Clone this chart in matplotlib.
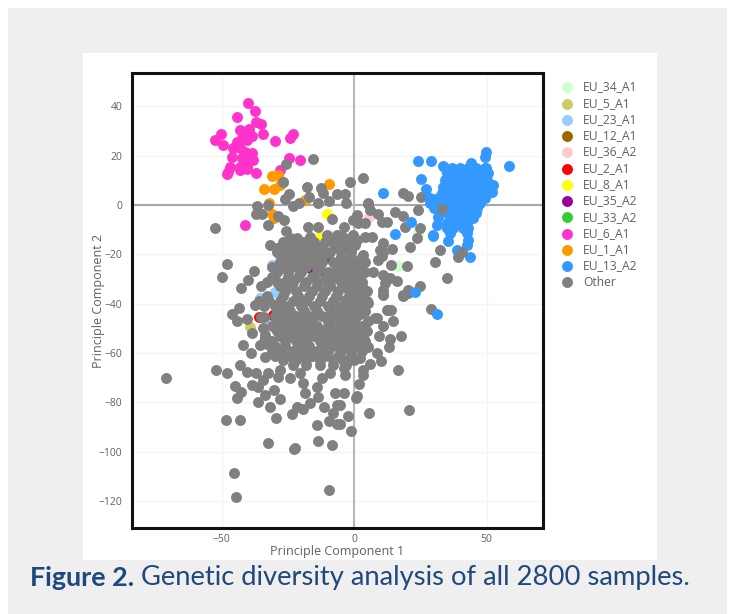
import matplotlib
matplotlib.use("Agg")
import matplotlib.pyplot as plt
from matplotlib.patches import Rectangle

W, H = 730, 614

other_x = [-52.5,-15.6,-25.7,-26.9,-17.6,-12.6,-11.8,-6.5,-24.6,-26,-16.9,-9.4,-13.7,-20.6,-22.9,-36.7,-32.5,-37,-34.8,-32.5,-28.6,-26.4,-8.4,-48,-49.9,-37.8,-39.9,-42.8,
  -71,-52,-48,-42.9,-40.5,-37.1,-44.8,-42.8,-44,-38.7,-36.1,-31.7,-27.8,-29.4,-48.3,-43,-32.6,-22.5,-22.3,-13.7,-8.4,-13.8,-9.6,-6.3,-23.3,-45.2,-44.5,-9.4,-41.8,-39,-46.2,-43.6,-44,-40.5,-37.4,-38.4,-34.2,-33.6,-35.5,
  -27.9,-28.6,-32.3,-34.2,-36.1,-30.4,-33.6,-24.2,-20.4,-19.1,-18.5,-21.6,-16.6,-19.1,-13.5,-11.2,-9.1,-12.2,-14.1,-7.2,-6.5,-7.8,
  28.9,12.7,14,14.8,11.1,8.6,5.4,11.1,18.6,20.4,9.4,17.7,13.6,13.2,4.2,5.4,8.6,10.1,6,3.5,3.5,16.7,1.9,0.8,1.2,-3.8,-5.3,-2.1,5.7,20.8,-1.1,-5.3,-3.8,-3.4,-0.3,2.3,-2.8,-1.5,-4,-0.3,-4,-0.3,3.5,5.4,-1.5,2.3,-3.4,
  5.4,6,1,8.9,15.5,18.6,24,1.6,4.2,10.5,12.6,-3.8,19.2,24.7,23.9,21.1,32.5,30.6,35,19.9,14,11.1,14.2,9.8,11,9.2,10.5,4.2,6.7,-0.3,-4,-1.5,0.4,3.5,2.9,7.3,11.1,13.6,16.1,11.7,11.1,11.1,18.5,20.5,24.9,12.3,7.9,
  -25.7,-17.2,-13.5,-0.4,1.5,-24.2,-31.7,-29.2,-26.7,-21.6,-16.6,-10.3,-6.5,1,
  -1.7,3.5,-3.4,-3,18.6,20.5,25.2,5.2,
  -24,-20,-16,-12,-7,-3,-27,-23,-19,-15,-5,-1,3,-31,-27,-22,-18,-14,-6,-2,2,-31,-25,-21,-16,-7,-3,1,
  -35,-28,-24,-19,-14,-9,-4,0,3,-33,-27,-21,-17,-12,-7,-2,2,-34,-30,-25,-20,-15,-10,-5,-1,3,
  -30,-26,-22,-17,-12,-6,-2,1,-31,-27,-23,-19,-14,-10,-5,-1,3,-28,-24,-20,-15,-11,-6,-2,2,
  -30,-26,-21,-17,-12,-7,-3,1,-30,-25,-20,-16,-11,-6,-1,-23,-18,-13,-8,-3,
  -27,-23,-19,-15,-11,-8,-4,-29,-25,-21,-17,-13,-9,-5,-1,-28,-24,-20,-16,-8,-4,0,4,
  -29,-25,-20,-14,-8,-4,0,4,-33,-29,-26,-23,-18,-14,-9,-5,-1,3,-26,-22,-16,-11,-6,-2,1,5,
  -36,-32,-28,-23,-18,-13,-8,-3,1,5,-28,-24,-19,-14,-8,-4,0,4,-29,-25,-20,-16,-10,-8,-4,0,
  -29,-25,-21,-17,-12,-8,-3,1,5,-31,-26,-22,-18,-13,-9,-4,0,-31,-28,-23,-19,-14,-10,-5,-1,3,
  -27,-22,-18,-13,-8,-4,0,
  -34,-29,-33,-10,-15,-11,-12,-13,-10,-14,-11,-10,
  -35,-33.6,-33.6]
other_y = [-9.2,18.8,16.6,9.3,7.2,6.8,5,4.5,4.5,2.3,3.1,1.7,0.7,0.7,-0.3,-0.3,0,-3.6,-3.6,-8.2,-4.5,-6.1,-5.8,-23.9,-29,-26.6,-30.4,-33.6,
  -70,-67,-68.1,-64.7,-67.7,-68.2,-73.2,-75.7,-78.4,-73,-80,-82,-78.6,-86.3,-87.2,-87.2,-96.3,-99,-98.3,-95.8,-97.4,-89.2,-87.4,-88.9,-84.5,-108.6,-118.5,-115.5,-56.8,-60.1,-44.2,-41.9,-46.9,-46.3,-40.5,-52,-50,-61.5,-56.8,
  -66.9,-69.6,-68.2,-70.9,-73.6,-75,-77,-70.2,-68.2,-72.3,-76.3,-81.8,-80.4,-82.8,-77.7,-81.8,-68.2,-70.2,-73.6,-76.3,-81,-84.4,
  -42.2,-42.6,-42.6,-46.9,-49,-45.9,-47,-36,-36.8,-35.5,-53.1,-53.1,-54.4,-57.4,-55.1,-57.7,-60.1,-63.1,-64.4,-66.9,-68.9,-67,-72.7,-78.1,-77.4,-76.1,-81,-85.5,-84.3,-83,-91.5,-88.9,-66.2,-68.9,-61.5,-62.2,-57.4,-52,-50.7,-54.7,-46.6,-48,-38.5,-39.8,-42.6,-44,-38.5,
  0.7,-2,-4,-3.6,-2.7,-4.3,-2,-6.8,-7.2,-6.8,-7,-8.8,-9,-9.2,-13.5,-16.9,-18.2,-23.2,-29.7,-24.6,-24.3,-15.3,-17.8,-18.2,-18.9,-22.3,-20.7,-12.8,-12.8,-12.2,-12.8,-15.5,-16.2,-20.3,-22.3,-27,-28.4,-29.7,-30.8,-31.7,-36.5,-34.5,-36.5,-34.5,-32.7,-42.6,-45.9,
  -10.4,-8.8,-8.8,-6,-7.3,-13.5,-16.2,-17.6,-17.4,-13.5,-12.8,-12.2,-12.2,-14.2,
  9.4,10.8,4.5,0.7,4.7,3.6,3.4,0.4,
  -17,-17,-17,-17,-17,-17,-21,-21,-21,-21,-21,-21,-21,-25,-25,-25,-25,-25,-25,-25,-25,-29,-29,-29,-29,-29,-29,-29,
  -33,-33,-33,-33,-33,-33,-33,-33,-33,-37,-37,-37,-37,-37,-37,-37,-37,-41,-41,-41,-41,-41,-41,-41,-41,-41,
  -45,-45,-45,-45,-45,-45,-45,-45,-49,-49,-49,-49,-49,-49,-49,-49,-49,-53,-53,-53,-53,-53,-53,-53,-53,
  -57,-57,-57,-57,-57,-57,-57,-57,-61,-61,-61,-61,-61,-61,-61,-65,-65,-65,-65,-65,
  -15,-15,-15,-15,-15,-15,-15,-19,-19,-19,-19,-19,-19,-19,-19,-23,-23,-23,-23,-23,-23,-23,-23,
  -27,-27,-27,-27,-27,-27,-27,-27,-31,-31,-31,-31,-31,-31,-31,-31,-31,-31,-35,-35,-35,-35,-35,-35,-35,-35,
  -39,-39,-39,-39,-39,-39,-39,-39,-39,-39,-43,-43,-43,-43,-43,-43,-43,-43,-47,-47,-47,-47,-47,-47,-47,-47,
  -51,-51,-51,-51,-51,-51,-51,-51,-51,-55,-55,-55,-55,-55,-55,-55,-55,-59,-59,-59,-59,-59,-59,-59,-59,-59,
  -63,-63,-63,-63,-63,-63,-63,
  -45.3,-43.5,-56.5,-45,-45,-20,-23,-26,-27,-24,-30,-32,
  -45.3,-52.5,-55]
other_top_x = [33.1,40.6,39.4]
other_top_y = [-1.6,-18.9,-21]

eu13_x = [49.8,49.4,24.3,28.9,58.6,33.5,44,49.8,25.3,27,52.6,52,21.4,15.5,29.7,23,31.4,10.8,
  34.3,37,40,43,46,49.4,35,38,41,44,47,50.7,34.3,37,40,43,46,50,33.7,37,40,43,46,50.7,33,36,39,42,45,48,50.7,
  28.7,31.5,34,37,40,43,46,49.4,28.7,31.5,34,37,40,43,45,47.5,30,33,36,39,42,44,46.3,31.8,35,38,41,44,46,
  36.2,39,42,45,35,38,40,42.5,31.2,35,37.5,41.2,43.1,36.2,42.7,35.6,43.1,42.5,29.7,38.7,43.7,
  36,38.5,41,43.5,46,48.5,35.5,38,40.5,43,45.5,48.5,35,38,41,44,47,49.5,35,38,41,44,47,49,
  33,35.5,38.5,41.5,44.5,47.5,33,35.5,38.5,41.5,44.5,46.5,32,35,37.5,40.5,43.5,45.5,34,37,40,43,45,37.5,40.5,43]
eu13_y = [21.6,19.6,17.8,18,15.8,15.8,17.1,14.9,10.4,6.5,8.1,5.4,-6.8,-11.8,-12.2,-35.4,-44.3,4.9,
  14.9,14.9,14.9,14.9,14.9,14.9,12.8,12.8,12.8,12.8,12.8,12.8,10.1,10.1,10.1,10.1,10.1,10.1,7.4,7.4,7.4,7.4,7.4,7.4,4.7,4.7,4.7,4.7,4.7,4.7,4.7,
  2.7,2.7,2.7,2.7,2.7,2.7,2.7,2.7,0.7,0.7,0.7,0.7,0.7,0.7,0.7,0.7,-1.3,-1.3,-1.3,-1.3,-1.3,-1.3,-1.3,-4.7,-3.4,-3.4,-3.4,-3.4,-3.4,
  -5.4,-5.4,-5.4,-5.4,-7.4,-7.4,-7.4,-7.4,-8.1,-9.4,-9.4,-9.4,-9.4,-11.5,-11.5,-14.6,-14.2,-16.2,-12.4,-18.2,-20.9,
  13.8,13.8,13.8,13.8,13.8,13.8,11.5,11.5,11.5,11.5,11.5,11.5,8.7,8.7,8.7,8.7,8.7,8.7,6,6,6,6,6,6,
  3.7,3.7,3.7,3.7,3.7,3.7,1.7,1.7,1.7,1.7,1.7,1.7,-0.3,-0.3,-0.3,-0.3,-0.3,-0.3,-2.3,-2.3,-2.3,-2.3,-2.3,-4.4,-4.4,-4.4]

eu6_x = [-40.1,-37.2,-44,-36.9,-35.2,-34.2,-50.3,-52.4,-49.3,-29.8,-22.9,-24.1,-43,-39.8,-41.1,-38.6,-42.4,-44.2,-40.5,-45.5,-43,-41.1,-38.6,-46.1,-42.4,-39.8,-38,-46.8,-43,-40.5,-47.4,-48,-43,-40.5,-36.9,-24.4,-20.3,-27.9,-41.2]
eu6_y = [41.2,38.1,35.5,33.8,32.7,28.8,28.8,26.3,24.3,25.9,28.6,27,30.4,31,29,27.9,27,25.6,26.3,23,23,21.6,21.2,19.3,18.9,18.9,18.2,15.5,15.5,15.5,13.5,12.6,14.2,14.6,13,18.9,18.2,14.2,-8]
eu1_x = [-31,-28.6,-26.7,-33.8,-30.2,-27.9,-9.4,-18.5,-32,-31,-30.4,-19.1]
eu1_y = [11.8,12.2,9.4,6.4,6.4,8.1,8.4,2,0.7,-3.6,-5.3,-17.8]
eu2_x = [-35.8,-30.5,-33.6]
eu2_y = [-45.3,-44.6,-54.3]
eu23_x = [-29.2,-31,-30,-35.5,-32.9,-28]
eu23_y = [-35,-24.5,-35.1,-37.8,-48,-21]
eu5_x = [-39.2]
eu5_y = [-49.3]
eu36_x = [5.8]
eu36_y = [-5]
eu34_x = [24.2,16.7]
eu34_y = [-11.5,-24.7]
eu8_x = [-10.3,-12.8,-9.3,-12.2,-15.3]
eu8_y = [-3.6,-12.8,-29,-33.4,-20.7]
eu35_x = [-10.9,-11.2,-16.6]
eu35_y = [-21.6,-27.7,-25.4]
eu33_x = [-10]
eu33_y = [-45]
eu12_x = [-15]
eu12_y = [-45]

x_ticks = [-50, 0, 50]
y_ticks = [-120, -100, -80, -60, -40, -20, 0, 20, 40]

plt.rcParams['font.family'] = ['Open Sans', 'DejaVu Sans']
fig = plt.figure(figsize=(W/100, H/100), dpi=100, facecolor='white')
fig.add_artist(Rectangle((8/W, 0), 719/W, 606/H, transform=fig.transFigure, fc='#efefef', ec='none', zorder=-5))
fig.add_artist(Rectangle((83/W, 1-560/H), 574/W, 507/H, transform=fig.transFigure, fc='white', ec='none', zorder=-4))

ax = fig.add_axes([132/W, 1-528/H, 411/W, 455/H])
ax.set_xlim(-83.8, 71.3)
ax.set_ylim(-130.9, 53.5)
ax.set_xticks(x_ticks)
ax.set_yticks(y_ticks)
ax.set_xticklabels(['\u2212' + str(-t) if t < 0 else str(t) for t in x_ticks])
ax.set_yticklabels(['\u2212' + str(-t) if t < 0 else str(t) for t in y_ticks])
ax.grid(True, color='#f4f4f4', lw=1)
ax.set_axisbelow(True)
ax.axhline(0, color='#a8a8a8', lw=1.5, zorder=1)
ax.axvline(0, color='#b8b8b8', lw=1.5, zorder=1)
ax.tick_params(length=0, labelsize=7.5, labelcolor='#606060', pad=7)
ax.tick_params(axis='x', pad=4.5)
for s in ax.spines.values():
    s.set_linewidth(2.2)
    s.set_color('#111111')
ax.set_xlabel('Principle Component 1', fontsize=9, color='#606060', labelpad=0)
ax.set_ylabel('Principle Component 2', fontsize=9, color='#606060', labelpad=-5)

S = 62
series = [
    ('EU_34_A1', eu34_x, eu34_y, '#ccffcc', 1.5),
    ('EU_5_A1', eu5_x, eu5_y, '#cccc66', 1.5),
    ('EU_23_A1', eu23_x, eu23_y, '#99ccff', 1.5),
    ('EU_12_A1', eu12_x, eu12_y, '#996600', 1.5),
    ('EU_36_A2', eu36_x, eu36_y, '#ffcccc', 1.5),
    ('EU_2_A1', eu2_x, eu2_y, '#ff0000', 1.5),
    ('EU_8_A1', eu8_x, eu8_y, '#ffff00', 1.6),
    ('EU_35_A2', eu35_x, eu35_y, '#990099', 1.7),
    ('EU_33_A2', eu33_x, eu33_y, '#33cc33', 1.5),
    ('EU_6_A1', eu6_x, eu6_y, '#ff33cc', 1.8),
    ('EU_1_A1', eu1_x, eu1_y, '#ff9900', 1.9),
    ('EU_13_A2', eu13_x, eu13_y, '#3399ff', 3),
    ('Other', other_x, other_y, '#808080', 2),
]
handles = []
for name, xs, ys, c, z in series:
    handles.append(ax.scatter(xs, ys, s=S, c=c, linewidths=0, zorder=z, label=name))
ax.scatter(other_top_x, other_top_y, s=S, c='#808080', linewidths=0, zorder=4)

leg = fig.legend(handles=handles, loc='upper left', bbox_to_anchor=(560/W, 1-80.5/H),
                 frameon=False, fontsize=8.7, labelcolor='#606060', labelspacing=0.27,
                 handletextpad=0.7, handlelength=1.2, borderpad=0, borderaxespad=0)

fig.text(30/W, 1-578/H, 'Figure 2.', fontsize=19.4, fontweight='bold', color='#1f497d',
         family=['Lato', 'DejaVu Sans'], va='center', ha='left')
fig.text(141/W, 1-578/H, 'Genetic diversity analysis of all 2800 samples.', fontsize=19.7,
         color='#1f497d', family=['Lato', 'DejaVu Sans'], va='center', ha='left')

fig.savefig('out.png', dpi=100)
